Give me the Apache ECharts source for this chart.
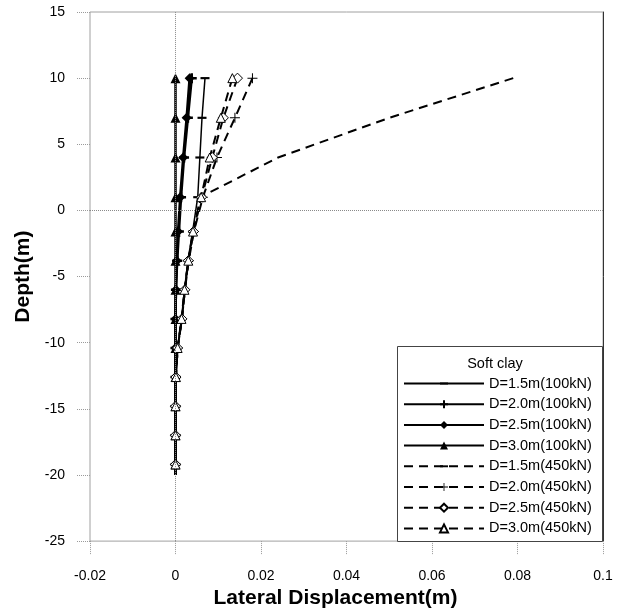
<!DOCTYPE html>
<html><head><meta charset="utf-8">
<script src="https://cdn.jsdelivr.net/npm/echarts@6/dist/echarts.min.js"></script>
<style>html,body{margin:0;padding:0;background:#fff}#c{width:621px;height:614px}</style>
</head><body><div id="c"></div>
<script>
// Depth of each computed point (m)
const depths = [10, 7, 4, 1, -1.6, -3.8, -6, -8.2, -10.4, -12.6, -14.8, -17, -19.2, -20];
// Lateral displacement (m) – 100 kN
const d15_100 = [0.0069, 0.0062, 0.0057, 0.0052, 0.0040, 0.0029, 0.0021, 0.0014, 0.0005, 0.0001, 0, 0, 0, 0];
const d20_100 = [0.0038, 0.0029, 0.0020, 0.0013, 0.0008, 0.0004, 0.0001, 0, 0, 0, 0, 0, 0, 0];
const d25_100 = [0.0033, 0.0026, 0.0018, 0.0011, 0.0006, 0.0003, 0.0001, 0, 0, 0, 0, 0, 0, 0];
const d30_100 = [0, 0, 0, 0, 0, 0, 0, 0, 0, 0, 0, 0, 0, 0];
// Lateral displacement (m) – 450 kN
const d15_450 = [0.079, 0.050, 0.024, 0.0058, 0.0042, 0.0030, 0.0022, 0.0015, 0.0005, 0.0001, 0, 0, 0, 0];
const d20_450 = [0.0180, 0.0139, 0.0097, 0.0064, 0.0043, 0.0031, 0.0022, 0.0015, 0.0005, 0.0001, 0, 0, 0, 0];
const d25_450 = [0.0145, 0.0112, 0.0086, 0.0061, 0.0042, 0.0030, 0.0022, 0.0015, 0.0005, 0.0001, 0, 0, 0, 0];
const d30_450 = [0.0133, 0.0106, 0.0080, 0.0060, 0.0041, 0.0030, 0.0021, 0.0014, 0.0005, 0.0001, 0, 0, 0, 0];
const seriesNames = ['D=1.5m(100kN)', 'D=2.0m(100kN)', 'D=2.5m(100kN)', 'D=3.0m(100kN)',
                     'D=1.5m(450kN)', 'D=2.0m(450kN)', 'D=2.5m(450kN)', 'D=3.0m(450kN)'];
const xTicks = [-0.02, 0, 0.02, 0.04, 0.06, 0.08, 0.1];
const yTicks = [-25, -20, -15, -10, -5, 0, 5, 10, 15];
const legendTitle = 'Soft clay';

const FONT = '"Liberation Sans", Arial, sans-serif';
function pts(xs) {
  return xs.map((x, i) => i === depths.length - 1 ? { value: [x, depths[i]], symbol: 'none' } : [x, depths[i]]);
}
// dash marker padded to a square box so it keeps its shape when scaled
const dashSym = 'path://M0,0M0,10M0,3.8h10v2.4h-10z';
const plusBold = 'path://M3,0h2v3h3v2h-3v3h-2v-3h-3v-2h3z';
const plusThin = 'path://M3.6,0h0.8v3.6h3.6v0.8h-3.6v3.6h-0.8v-3.6h-3.6v-0.8h3.6z';

function mk(name, xs, opts) {
  return Object.assign({
    name: name, type: 'line', data: pts(xs), showAllSymbol: true,
    animation: false, z: 3
  }, opts);
}
const solidBold = { color: '#000', width: 2.5, type: 'solid' };
const dashed = { color: '#000', width: 2, type: [9, 6] };
const filled = { color: '#000', borderColor: '#000', borderWidth: 0 };
const hollow = { color: '#fff', borderColor: '#000', borderWidth: 1 };

const series = [
  mk(seriesNames[0], d15_100, { symbol: dashSym, symbolSize: 9,
    lineStyle: { color: '#000', width: 1.5 }, itemStyle: filled,
    markLine: { silent: true, symbol: ['none', 'none'], label: { show: false },
      lineStyle: { type: 'dotted', color: '#8a8a8a', width: 1 }, data: [{ xAxis: 0 }, { yAxis: 0 }] } }),
  mk(seriesNames[1], d20_100, { symbol: plusBold, symbolSize: 10, lineStyle: solidBold, itemStyle: filled }),
  mk(seriesNames[2], d25_100, { symbol: 'diamond', symbolSize: 10, lineStyle: solidBold, itemStyle: filled }),
  mk(seriesNames[3], d30_100, { symbol: 'triangle', symbolSize: 10, lineStyle: solidBold, itemStyle: filled }),
  mk(seriesNames[4], d15_450, { symbol: dashSym, symbolSize: 9, showSymbol: false, lineStyle: dashed, itemStyle: filled }),
  mk(seriesNames[5], d20_450, { symbol: plusThin, symbolSize: 10, lineStyle: dashed, itemStyle: filled }),
  mk(seriesNames[6], d25_450, { symbol: 'diamond', symbolSize: 10, lineStyle: dashed, itemStyle: hollow }),
  mk(seriesNames[7], d30_450, { symbol: 'triangle', symbolSize: 9, lineStyle: dashed, itemStyle: hollow })
];

const chart = echarts.init(document.getElementById('c'), null, { renderer: 'canvas' });
chart.setOption({
  animation: false,
  backgroundColor: '#fff',
  textStyle: { fontFamily: FONT },
  grid: { left: 90, right: 18, top: 12, bottom: 72, show: true, borderColor: '#a0a0a0', borderWidth: 1 },
  xAxis: {
    type: 'value', min: xTicks[0], max: xTicks[xTicks.length - 1], interval: 0.02,
    axisLine: { show: false, onZero: false },
    axisTick: { show: true, length: 14, inside: false, lineStyle: { color: '#9a9a9a', type: 'dotted' } },
    splitLine: { show: false },
    axisLabel: { margin: 28, color: '#000', fontSize: 14, fontFamily: FONT,
      formatter: v => String(+v.toFixed(2)) },
    name: 'Lateral Displacement(m)', nameLocation: 'middle', nameGap: 44,
    nameTextStyle: { fontSize: 21, fontWeight: 'bold', color: '#000', fontFamily: FONT, padding: [0, 22, 0, 0] }
  },
  yAxis: [{
    type: 'value', min: yTicks[0], max: yTicks[yTicks.length - 1], interval: 5,
    axisLine: { show: false, onZero: false },
    axisTick: { show: true, length: 14, inside: false, lineStyle: { color: '#9a9a9a', type: 'dotted' } },
    splitLine: { show: false },
    axisLabel: { margin: 25, color: '#000', fontSize: 14, fontFamily: FONT },
    name: 'Depth(m)', nameLocation: 'middle', nameGap: 46, nameRotate: 90,
    nameTextStyle: { fontSize: 21, fontWeight: 'bold', color: '#000', fontFamily: FONT }
  }, {
    type: 'value', position: 'right', min: yTicks[0], max: yTicks[yTicks.length - 1], interval: 5,
    axisLine: { show: true, onZero: false, lineStyle: { color: '#333', width: 1 } },
    axisTick: { show: false }, axisLabel: { show: false }, splitLine: { show: false }
  }],
  legend: {
    orient: 'vertical', left: 403, top: 376, padding: 0, itemWidth: 80, itemHeight: 10, itemGap: 5.7,
    data: seriesNames, z: 10,
    textStyle: { fontSize: 14.5, color: '#000', fontFamily: FONT, lineHeight: 14 },
    inactiveColor: '#000'
  },
  graphic: [
    { type: 'rect', z: 5, shape: { x: 397.5, y: 346.5, width: 205, height: 195 },
      style: { fill: '#fff', stroke: '#444', lineWidth: 1 } },
    { type: 'text', z: 11, x: 495, y: 364,
      style: { text: legendTitle, font: '14.5px ' + FONT, fill: '#000', align: 'center', verticalAlign: 'middle' } }
  ],
  series: series
});
</script>
</body></html>
